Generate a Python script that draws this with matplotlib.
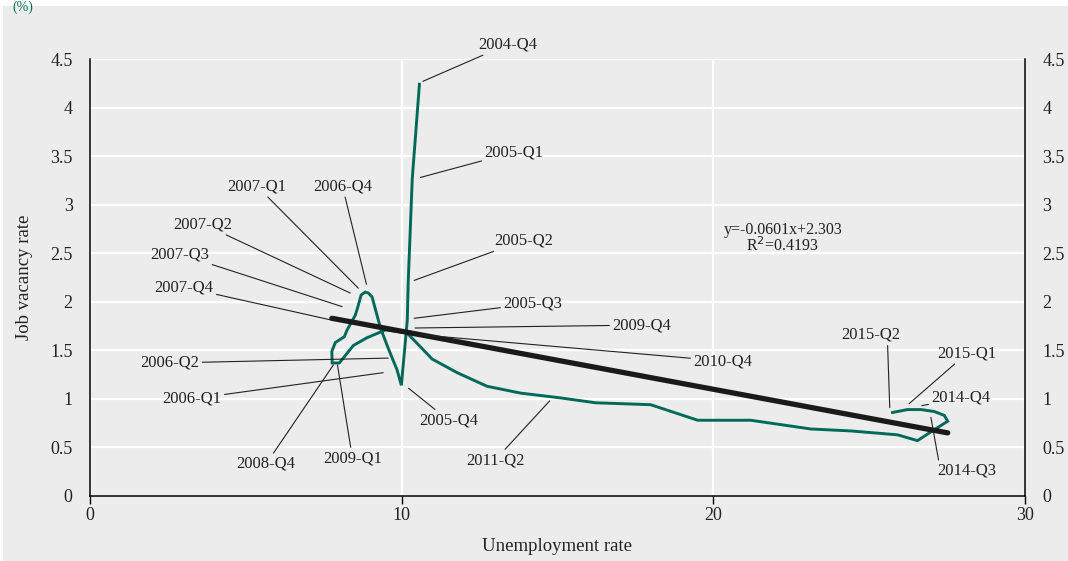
import matplotlib
matplotlib.use("Agg")
import matplotlib.pyplot as plt
from matplotlib.patches import Rectangle

plt.rcParams['font.family'] = ['Liberation Serif', 'DejaVu Serif']

# Unemployment rate (x) and job vacancy rate (y), 2004-Q4 .. 2015-Q2 path
unemp = [10.57, 10.34, 10.21, 10.18, 9.99, 9.85, 9.57, 9.32, 9.05, 8.93, 8.83,
         8.70, 8.57, 8.51, 8.25, 8.16, 7.87, 7.76, 7.77, 8.00, 8.45, 8.89, 9.48,
         10.17, 10.98, 11.78, 12.74, 13.81, 15.10, 16.22, 17.99, 19.50, 21.20,
         23.13, 24.41, 25.91, 26.55, 26.93, 27.52, 27.41, 27.09, 26.66, 26.23, 25.75]
vacancy = [4.24, 3.27, 2.20, 1.81, 1.14, 1.30, 1.52, 1.73, 2.05, 2.09, 2.10,
           2.07, 1.92, 1.86, 1.71, 1.64, 1.58, 1.49, 1.37, 1.37, 1.55, 1.63, 1.71,
           1.68, 1.41, 1.27, 1.13, 1.06, 1.01, 0.96, 0.94, 0.78, 0.78,
           0.69, 0.67, 0.63, 0.57, 0.65, 0.77, 0.83, 0.87, 0.89, 0.89, 0.86]

# linear trend end points
trend_x = [7.76, 27.52]
trend_y = [1.83, 0.65]

# quarter labels: (text, point x, point y, label x, label y)
labels = [
    ("2004-Q4", 10.68, 4.27, 13.4, 4.65),
    ("2005-Q1", 10.60, 3.28, 13.6, 3.54),
    ("2005-Q2", 10.40, 2.22, 13.9, 2.63),
    ("2005-Q3", 10.40, 1.83, 14.2, 1.98),
    ("2009-Q4", 10.43, 1.73, 17.7, 1.76),
    ("2010-Q4", 10.6, 1.66, 20.3, 1.39),
    ("2005-Q4", 10.22, 1.11, 11.5, 0.78),
    ("2011-Q2", 14.75, 0.98, 13.0, 0.37),
    ("2006-Q4", 8.87, 2.18, 8.1, 3.19),
    ("2007-Q1", 8.61, 2.14, 5.36, 3.19),
    ("2007-Q2", 8.35, 2.09, 3.63, 2.80),
    ("2007-Q3", 8.09, 1.95, 2.89, 2.49),
    ("2007-Q4", 7.77, 1.81, 3.02, 2.15),
    ("2006-Q2", 9.57, 1.42, 2.57, 1.37),
    ("2006-Q1", 9.41, 1.27, 3.28, 1.00),
    ("2008-Q4", 7.81, 1.35, 5.65, 0.33),
    ("2009-Q1", 7.94, 1.35, 8.42, 0.39),
    ("2015-Q2", 25.66, 0.91, 25.05, 1.66),
    ("2015-Q1", 26.28, 0.95, 28.14, 1.47),
    ("2014-Q4", 26.69, 0.93, 27.94, 1.01),
    ("2014-Q3", 26.98, 0.81, 28.14, 0.26),
]
# where on the label box the leader starts, if not the centre
leader_start = {"2015-Q2": (0.78, 0.5), "2014-Q3": (0.05, 0.5)}

eq_text = "y=-0.0601x+2.303"
r2_text = "R$^2$=0.4193"

teal = "#00695a"
bg = "#ececec"

fig = plt.figure(figsize=(10.68, 5.61), dpi=100)
fig.patch.set_facecolor("white")
panel = Rectangle((3 / 1068, 0), 1, (561 - 6) / 561, transform=fig.transFigure,
                  facecolor=bg, edgecolor="none", zorder=-10)
fig.patches.append(panel)
ax = fig.add_axes([90 / 1068, 65 / 561, 935 / 1068, 437 / 561])
ax.set_zorder(1)
ax.set_facecolor(bg)

ax.set_xlim(0, 30)
ax.set_ylim(0, 4.5)
ax.set_xticks([0, 10, 20, 30])
ax.set_yticks([0, 0.5, 1, 1.5, 2, 2.5, 3, 3.5, 4, 4.5])
ax.set_yticklabels(["0", "0.5", "1", "1.5", "2", "2.5", "3", "3.5", "4", "4.5"])
ax.grid(True, color="white", linewidth=1.6)
ax.set_axisbelow(True)

for s in ["left", "right", "bottom"]:
    ax.spines[s].set_color("black")
    ax.spines[s].set_linewidth(1.1)
ax.spines["top"].set_visible(False)

ax.tick_params(axis="y", left=False, right=False, labelleft=True, labelright=True,
               labelsize=13, pad=9, colors="#222222")
ax.tick_params(axis="x", direction="out", length=6, width=1, labelsize=13, pad=2,
               colors="#222222")
ax.tick_params(axis="x", color="black")

ax.set_xlabel("Unemployment rate", fontsize=13.5, color="#222222", labelpad=10)
ax.set_ylabel("Job vacancy rate", fontsize=13.5, color="#222222", labelpad=12)

ax.plot(unemp, vacancy, color=teal, linewidth=2.1, zorder=3, solid_joinstyle="miter")
ax.plot(trend_x, trend_y, color="#1a1a1a", linewidth=3.8, zorder=4, solid_capstyle="round")

for txt, px, py, lx, ly in labels:
    ax.annotate(txt, xy=(px, py), xytext=(lx, ly), fontsize=12, color="#222222",
                ha="center", va="center", zorder=5,
                arrowprops=dict(arrowstyle="-", color="#222222", linewidth=0.8,
                                shrinkA=0, shrinkB=0,
                                relpos=leader_start.get(txt, (0.5, 0.5))))

ax.text(22.25, 2.74, eq_text, fontsize=11.5, color="#222222", ha="center", va="center")
ax.text(22.23, 2.58, r2_text, fontsize=11.5, color="#222222", ha="center", va="center")

fig.text(0.012, 0.999, "(%)", fontsize=10, color=teal, ha="left", va="top", zorder=2)

fig.savefig("out.png", dpi=100, facecolor=fig.get_facecolor())
